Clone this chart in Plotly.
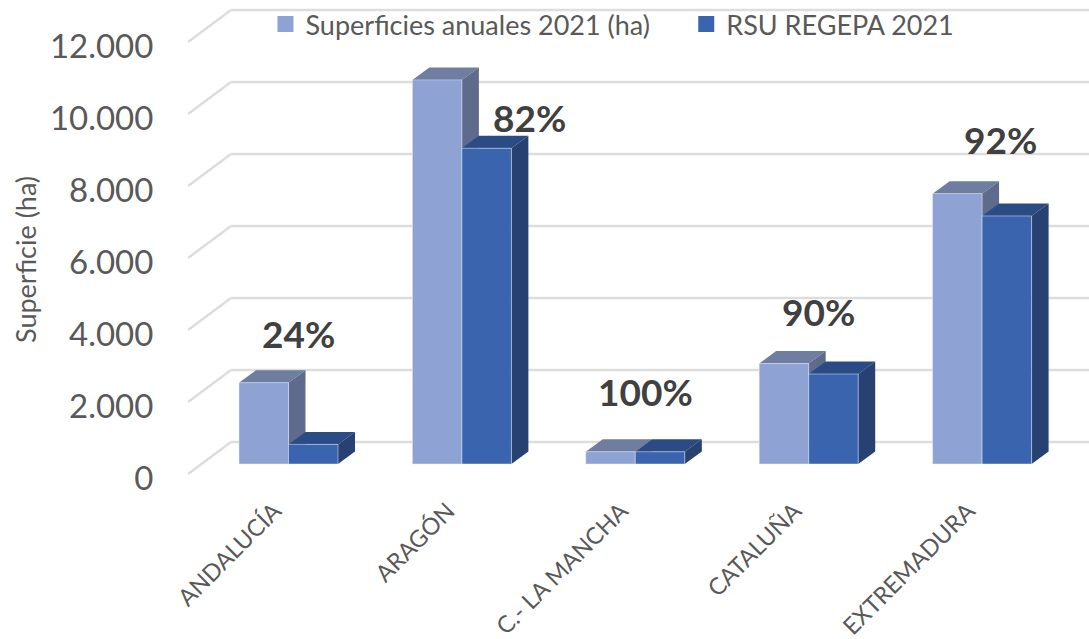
import plotly.graph_objects as go

categories = ["ANDALUCÍA", "ARAGÓN", "C.- LA MANCHA", "CATALUÑA", "EXTREMADURA"]
superficies = [2260, 10670, 340, 2790, 7510]
rsu_regepa = [545, 8770, 340, 2500, 6890]
porcentajes = ["24%", "82%", "100%", "90%", "92%"]
y_ticks = [0, 2000, 4000, 6000, 8000, 10000, 12000]
y_tick_labels = ["0", "2.000", "4.000", "6.000", "8.000", "10.000", "12.000"]

# Pseudo-3D geometry, in axis units
PX_X = 173.4
PX_Y = 0.036
BAR_W = 49.5 / PX_X
FLOOR = 14 / PX_Y
FRONT = 4 / PX_Y
DX, DY = 17 / PX_X, 12.5 / PX_Y
WALL_DX, WALL_DY = 43 / PX_X, 36 / PX_Y
X0, X1 = (188 - 288.5) / PX_X, (1089 - 288.5) / PX_X
LABEL_NUDGE = 14 / PX_X

LIGHT, LIGHT_TOP, LIGHT_SIDE = "#8FA2D4", "#6E7DA0", "#5F6B8D"
DARK, DARK_TOP, DARK_SIDE = "#3A64AD", "#2B4B85", "#264172"
TEXT = "#595959"
FONT = "Lato"


def poly(points, color):
    path = "M" + " L".join(f"{x:.4f},{y:.1f}" for x, y in points) + " Z"
    return dict(type="path", path=path, fillcolor=color, line=dict(width=0), layer="below",
                xref="x", yref="y")


shapes = []
for t in y_ticks:
    line = dict(color="#DDDDDD", width=2.5)
    shapes.append(dict(type="line", xref="x", yref="y", layer="below", line=line,
                       x0=X0, y0=t + FRONT, x1=X0 + WALL_DX, y1=t + WALL_DY))
    shapes.append(dict(type="line", xref="x", yref="y", layer="below", line=line,
                       x0=X0 + WALL_DX, y0=t + WALL_DY, x1=X1, y1=t + WALL_DY))

for i, (a, b) in enumerate(zip(superficies, rsu_regepa)):
    for left, v, top_c, side_c in ((i - BAR_W, a, LIGHT_TOP, LIGHT_SIDE), (i, b, DARK_TOP, DARK_SIDE)):
        right = left + BAR_W
        top = FLOOR + v
        shapes.append(poly([(left, top), (left + DX, top + DY), (right + DX, top + DY), (right, top)], top_c))
        shapes.append(poly([(right, FLOOR), (right + DX, FLOOR + DY), (right + DX, top + DY), (right, top)], side_c))

fig = go.Figure()
idx = list(range(len(categories)))
fig.add_bar(x=idx, y=superficies, base=FLOOR, name="Superficies anuales 2021 (ha)",
            marker_color=LIGHT, showlegend=False)
fig.add_bar(x=idx, y=rsu_regepa, base=FLOOR, name="RSU REGEPA 2021",
            marker_color=DARK, showlegend=False)
fig.add_scatter(x=[None], y=[None], mode="markers", name="Superficies anuales 2021 (ha)",
                marker=dict(symbol="square", size=16, color=LIGHT), legend="legend")
fig.add_scatter(x=[None], y=[None], mode="markers", name="RSU REGEPA 2021",
                marker=dict(symbol="square", size=16, color=DARK), legend="legend2")

# Label placement relative to the taller bar of each group (px)
label_shift = [(10, 49), (68, 31), (10, 60), (10, 52), (18, 54)]
annotations = []
for i, (txt, (sx, sy)) in enumerate(zip(porcentajes, label_shift)):
    ref = rsu_regepa[i] if i == 1 else superficies[i]
    annotations.append(dict(x=i, y=FLOOR + ref, text=txt, showarrow=False, xshift=sx, yshift=sy,
                            xanchor="center", yanchor="middle",
                            font=dict(family=FONT, size=37, color="#404040", weight="bold")))
annotations.append(dict(xref="paper", yref="paper", x=-0.181, y=0.458, text="Superficie (ha)", textangle=-90,
                        xanchor="center", yanchor="middle",
                        showarrow=False, font=dict(family=FONT, size=27, color=TEXT)))

legend_style = dict(orientation="h", yanchor="top", xanchor="left", y=1.0,
                    bgcolor="rgba(0,0,0,0)", font=dict(family=FONT, size=27, color=TEXT), itemwidth=30)

fig.update_layout(
    width=1089, height=639,
    margin=dict(l=188, r=0, t=0, b=161, autoexpand=False),
    paper_bgcolor="white", plot_bgcolor="white",
    barmode="group", bargap=1 - 2 * BAR_W, bargroupgap=0,
    shapes=shapes, annotations=annotations,
    showlegend=True,
    legend=dict(x=0.086, **legend_style),
    legend2=dict(x=0.553, **legend_style),
    xaxis=dict(range=[X0, X1], tickvals=[i - LABEL_NUDGE for i in idx], ticktext=categories, tickangle=-45,
               showgrid=False, zeroline=False, showline=False, automargin=False,
               ticks="outside", ticklen=9, tickcolor="rgba(0,0,0,0)",
               tickfont=dict(family=FONT, size=23.5, color=TEXT)),
    yaxis=dict(range=[0, 478 / PX_Y], tickvals=y_ticks, ticktext=y_tick_labels,
               showgrid=False, zeroline=False, showline=False, automargin=False,
               ticks="outside", ticklen=27, tickcolor="rgba(0,0,0,0)",
               tickfont=dict(family=FONT, size=33, color=TEXT)),
)

fig.write_html("out.html", config=dict(displayModeBar=False),
               post_script="document.body.style.margin='0';document.body.style.overflow='hidden';")
